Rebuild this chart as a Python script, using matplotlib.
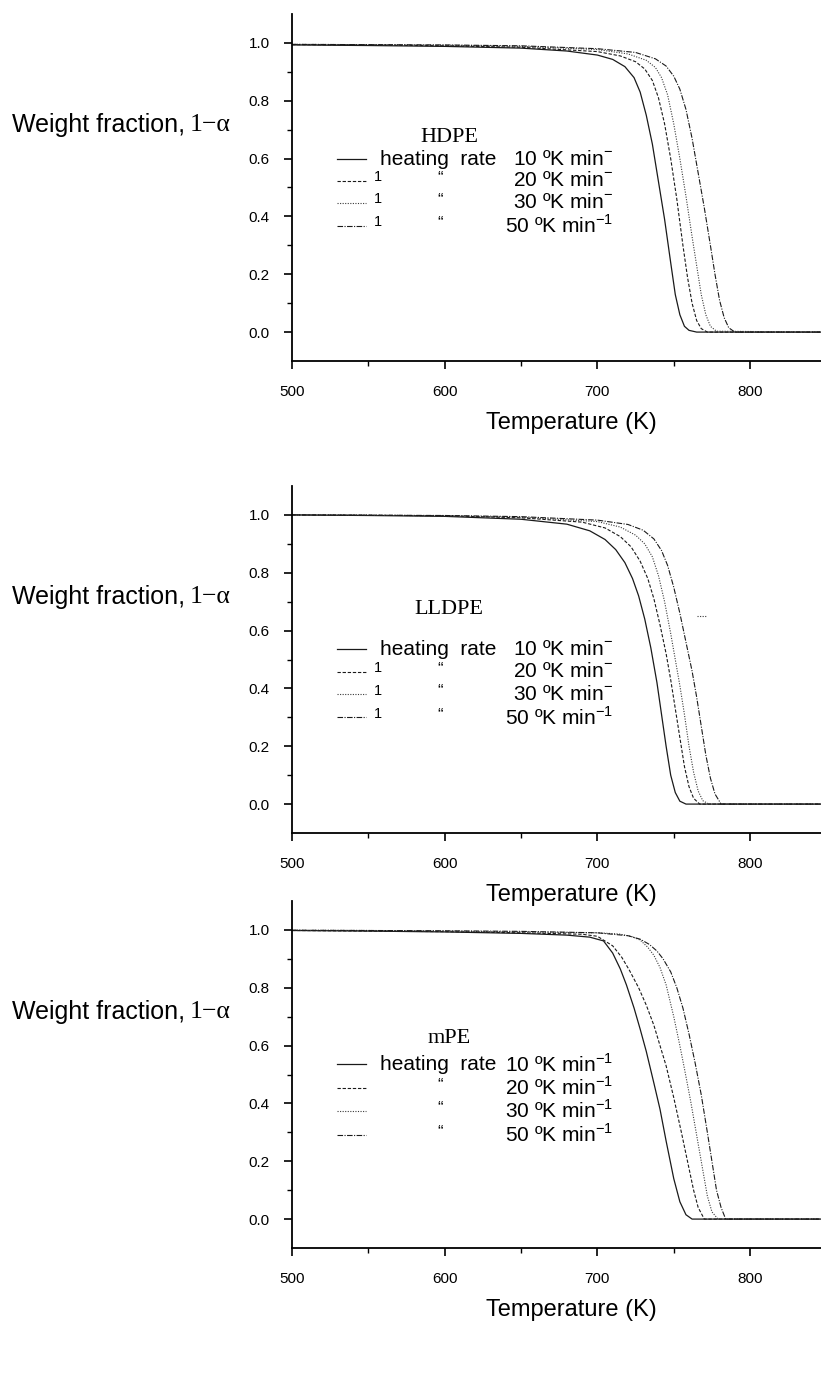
import matplotlib

matplotlib.use("Agg")
import matplotlib.pyplot as plt  # noqa: E402

plt.rcParams["font.family"] = ["Liberation Sans", "DejaVu Sans"]
plt.rcParams["mathtext.fontset"] = "custom"
plt.rcParams["mathtext.rm"] = "Liberation Sans"

# --- TGA curves: temperature (K) vs weight fraction 1-alpha ---
hdpe_T10 = [500, 550, 600, 650, 680, 700, 710, 718, 724, 728, 732, 736, 740, 744, 748, 751, 754, 757, 760, 765, 846]
hdpe_w10 = [0.993, 0.991, 0.988, 0.982, 0.972, 0.958, 0.943, 0.918, 0.88, 0.83, 0.75, 0.65, 0.52, 0.39, 0.24, 0.13, 0.06, 0.02, 0.006, 0.0, 0.0]
hdpe_T20 = [500, 550, 600, 650, 700, 715, 725, 731, 736, 740, 744, 748, 752, 756, 759, 762, 765, 768, 772, 846]
hdpe_w20 = [0.994, 0.993, 0.99, 0.985, 0.97, 0.955, 0.935, 0.91, 0.87, 0.81, 0.72, 0.6, 0.46, 0.3, 0.19, 0.1, 0.04, 0.012, 0.0, 0.0]
hdpe_T30 = [500, 550, 600, 650, 700, 720, 732, 738, 742, 746, 750, 754, 758, 762, 765, 768, 771, 774, 778, 846]
hdpe_w30 = [0.995, 0.994, 0.992, 0.988, 0.977, 0.962, 0.94, 0.915, 0.88, 0.82, 0.72, 0.6, 0.47, 0.33, 0.23, 0.13, 0.06, 0.02, 0.003, 0.0]
hdpe_T50 = [500, 550, 600, 650, 700, 725, 738, 745, 750, 754, 758, 762, 766, 770, 774, 777, 780, 783, 786, 790, 846]
hdpe_w50 = [0.995, 0.994, 0.993, 0.99, 0.98, 0.967, 0.945, 0.92, 0.885, 0.84, 0.77, 0.67, 0.55, 0.43, 0.3, 0.2, 0.11, 0.05, 0.015, 0.0, 0.0]

lldpe_T10 = [500, 550, 600, 650, 680, 695, 705, 712, 718, 723, 727, 731, 735, 739, 742, 745, 748, 751, 754, 758, 846]
lldpe_w10 = [1.0, 0.998, 0.995, 0.985, 0.968, 0.945, 0.915, 0.88, 0.835, 0.78, 0.72, 0.64, 0.54, 0.42, 0.31, 0.2, 0.1, 0.04, 0.01, 0.0, 0.0]
lldpe_T20 = [500, 550, 600, 650, 690, 705, 715, 722, 728, 733, 737, 741, 745, 748, 751, 754, 757, 760, 763, 767, 846]
lldpe_w20 = [1.0, 0.999, 0.997, 0.99, 0.975, 0.955, 0.925, 0.89, 0.84, 0.78, 0.71, 0.62, 0.52, 0.43, 0.33, 0.23, 0.13, 0.06, 0.02, 0.0, 0.0]
lldpe_T30 = [500, 550, 600, 650, 700, 715, 725, 731, 736, 740, 744, 748, 751, 754, 757, 760, 763, 766, 769, 773, 846]
lldpe_w30 = [1.0, 0.999, 0.997, 0.992, 0.977, 0.958, 0.93, 0.9, 0.855, 0.79, 0.7, 0.59, 0.5, 0.41, 0.31, 0.2, 0.11, 0.045, 0.012, 0.0, 0.0]
lldpe_T50 = [500, 550, 600, 650, 700, 720, 730, 737, 742, 746, 750, 754, 758, 762, 765, 768, 771, 774, 777, 781, 846]
lldpe_w50 = [1.0, 0.999, 0.998, 0.994, 0.982, 0.967, 0.947, 0.917, 0.877, 0.825, 0.75, 0.66, 0.56, 0.46, 0.37, 0.27, 0.17, 0.09, 0.035, 0.0, 0.0]

mpe_T10 = [500, 550, 600, 650, 680, 695, 704, 710, 715, 719, 724, 728, 732, 737, 741, 745, 750, 754, 758, 762, 846]
mpe_w10 = [0.998, 0.996, 0.993, 0.988, 0.982, 0.975, 0.962, 0.92, 0.865, 0.81, 0.73, 0.657, 0.58, 0.47, 0.38, 0.27, 0.14, 0.06, 0.015, 0.0, 0.0]
mpe_T20 = [500, 550, 600, 650, 690, 700, 710, 716, 721, 727, 732, 737, 741, 745, 750, 755, 759, 763, 766, 770, 846]
mpe_w20 = [0.998, 0.996, 0.994, 0.99, 0.985, 0.978, 0.945, 0.905, 0.86, 0.8, 0.74, 0.67, 0.6, 0.53, 0.42, 0.3, 0.2, 0.1, 0.04, 0.0, 0.0]
mpe_T30 = [500, 550, 600, 650, 700, 714, 722, 728, 733, 737, 741, 745, 750, 754, 757, 761, 765, 769, 772, 775, 779, 846]
mpe_w30 = [0.999, 0.998, 0.996, 0.993, 0.99, 0.986, 0.978, 0.965, 0.94, 0.912, 0.87, 0.81, 0.7, 0.6, 0.52, 0.41, 0.29, 0.17, 0.08, 0.025, 0.0, 0.0]
mpe_T50 = [500, 550, 600, 650, 700, 720, 728, 734, 739, 743, 748, 752, 756, 760, 764, 768, 772, 775, 778, 781, 784, 846]
mpe_w50 = [0.999, 0.998, 0.997, 0.995, 0.99, 0.98, 0.968, 0.95, 0.927, 0.9, 0.855, 0.8, 0.73, 0.64, 0.54, 0.43, 0.3, 0.2, 0.1, 0.04, 0.0, 0.0]

rates = ["10", "20", "30", "50"]
xticks = [500, 600, 700, 800]
yticks = [0.0, 0.2, 0.4, 0.6, 0.8, 1.0]

STYLES = [
    dict(ls="-", lw=0.9, color="#1a1a1a"),
    dict(ls=(0, (3.0, 1.6)), lw=0.8, color="#1a1a1a"),
    dict(ls=(0, (1.0, 1.3)), lw=0.8, color="#3a3a3a"),
    dict(ls=(0, (5.0, 1.3, 1.0, 1.3)), lw=0.8, color="#1a1a1a"),
]

W, H = 821, 1378
PX_PER_K = 1.527
fig = plt.figure(figsize=(W / 100, H / 100), dpi=100)

# (name, curves, axes bottom px, legend rows w, title w, "1" marks, superscript)
panels = [
    ("HDPE", [(hdpe_T10, hdpe_w10), (hdpe_T20, hdpe_w20), (hdpe_T30, hdpe_w30), (hdpe_T50, hdpe_w50)],
     361, [0.597, 0.523, 0.447, 0.368], 0.672, True, ["-", "-", "-", "-1"]),
    ("LLDPE", [(lldpe_T10, lldpe_w10), (lldpe_T20, lldpe_w20), (lldpe_T30, lldpe_w30), (lldpe_T50, lldpe_w50)],
     833, [0.535, 0.458, 0.38, 0.3], 0.672, True, ["-", "-", "-", "-1"]),
    ("mPE", [(mpe_T10, mpe_w10), (mpe_T20, mpe_w20), (mpe_T30, mpe_w30), (mpe_T50, mpe_w50)],
     1248, [0.535, 0.455, 0.375, 0.292], 0.625, False, ["-1", "-1", "-1", "-1"]),
]

x_left = 292
for name, curves, ybot, rows, title_w, ones, sups in panels:
    ax = fig.add_axes([x_left / W, 1 - ybot / H, 1 - x_left / W, 347 / H])
    for (T, w), st in zip(curves, STYLES):
        ax.plot(T, w, **st)

    ax.set_xlim(500, 500 + (W - x_left) / PX_PER_K)
    ax.set_ylim(-0.1, 1.1)
    for s in ("top", "right"):
        ax.spines[s].set_visible(False)
    for s in ("left", "bottom"):
        ax.spines[s].set_linewidth(1.3)
    ax.set_xticks(xticks)
    ax.set_xticks([550, 650, 750], minor=True)
    ax.set_yticks(yticks)
    ax.set_yticklabels([f"{v:.1f}" for v in yticks])
    ax.set_yticks([0.1, 0.3, 0.5, 0.7, 0.9], minor=True)
    ax.tick_params(which="major", direction="out", length=6, width=1.2, labelsize=11)
    ax.tick_params(which="minor", direction="out", length=3.5, width=1.0)
    ax.tick_params(axis="y", pad=10)
    ax.tick_params(axis="x", pad=11)

    # hand-built legend block
    ax.text(603, title_w, name, family="Liberation Serif", fontsize=16,
            ha="center", va="center")
    ax.text(557.5, rows[0], "heating  rate", fontsize=15, ha="left", va="center")
    for i, (yw, st) in enumerate(zip(rows, STYLES)):
        ax.plot([529.5, 548.5], [yw, yw], **st)
        ax.text(710, yw, f"{rates[i]} ºK min$^{{{sups[i]}}}$", fontsize=15,
                ha="right", va="center")
        if i > 0:
            if ones:
                ax.text(553.5, yw + 0.012, "1", fontsize=10.5, ha="left", va="center")
            ax.text(597, yw + 0.01, "\u201c", fontsize=12, ha="center", va="center")

    if name == "LLDPE":
        ax.plot([765, 772], [0.652, 0.652], ls=(0, (1.0, 1.3)), lw=0.8, color="#3a3a3a")

    # axis titles sit outside the axes box
    ax_top = ybot - 347
    fig.text(12 / W, 1 - (ax_top + 111) / H, "Weight fraction, ", fontsize=18,
             ha="left", va="center")
    fig.text(190 / W, 1 - (ax_top + 111) / H, "1\u2212\u03b1", family="Liberation Serif",
             fontsize=18.5, ha="left", va="center")
    fig.text(571 / W, 1 - (ybot + 62) / H, "Temperature (K)", fontsize=17,
             ha="center", va="center")

fig.savefig("out.png", dpi=100)
plt.close(fig)
